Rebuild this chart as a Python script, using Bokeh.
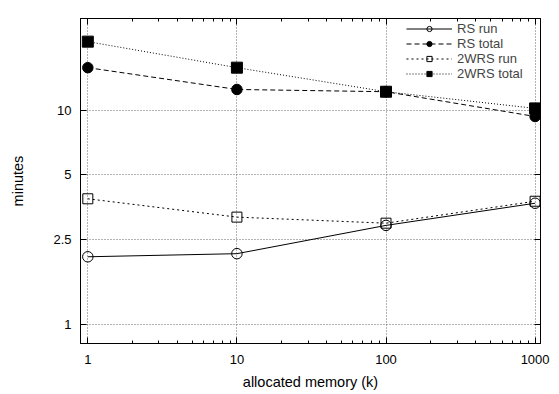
from bokeh.plotting import figure
from bokeh.models import Range1d, FixedTicker, LogAxis, Legend, LegendItem
from bokeh.embed import file_html
from bokeh.resources import INLINE

memory = [1, 10, 100, 1000]
rs_run = [2.07, 2.14, 2.90, 3.68]
rs_total = [15.8, 12.5, 12.2, 9.35]
wrs_run = [3.86, 3.17, 2.97, 3.76]
wrs_total = [20.9, 15.8, 12.2, 10.2]

x_ticks = [1, 10, 100, 1000]
x_tick_labels = {1: "1", 10: "10", 100: "100", 1000: "1000"}
x_minor = [m * d for d in (1, 10, 100) for m in range(2, 10)]
y_ticks = [1, 2.5, 5, 10]
y_tick_labels = {1: "1", 2.5: "2.5", 5: "5", 10: "10"}

FONT = "Liberation Sans"
FS = "13px"
FS_AX = "14.5px"

p = figure(width=559, height=394, x_axis_type="log", y_axis_type="log",
           x_range=Range1d(0.893, 1087), y_range=Range1d(0.815, 26.8),
           output_backend="svg", toolbar_location=None,
           min_border_left=80, min_border_right=19, min_border_top=18, min_border_bottom=51)

p.outline_line_color = "black"
p.outline_line_width = 1
p.background_fill_color = "white"

xt = FixedTicker(ticks=x_ticks, minor_ticks=x_minor)
yt = FixedTicker(ticks=y_ticks, minor_ticks=[])

def style_axis(ax, labels=True):
    ax.major_tick_in = 6
    ax.major_tick_out = 0
    ax.minor_tick_in = 3
    ax.minor_tick_out = 0
    ax.axis_line_color = "black"
    ax.major_tick_line_color = "black"
    ax.minor_tick_line_color = "black"
    ax.major_label_text_font = FONT
    ax.major_label_text_font_size = FS if labels else "1px"
    ax.major_label_text_color = "black"
    if not labels:
        ax.major_label_text_alpha = 0
    ax.axis_label_text_font = FONT
    ax.axis_label_text_font_size = FS_AX
    ax.axis_label_text_font_style = "normal"
    ax.axis_label_text_color = "black"

xa = p.xaxis[0]
xa.ticker = xt
xa.major_label_overrides = x_tick_labels
xa.axis_label = "allocated memory (k)"
style_axis(xa)
xa.major_label_standoff = 11
xa.axis_label_standoff = 7

ya = p.yaxis[0]
ya.ticker = yt
ya.major_label_overrides = y_tick_labels
ya.axis_label = "minutes"
style_axis(ya)
ya.minor_tick_line_color = None
ya.major_label_standoff = 9
ya.axis_label_standoff = 24

top = LogAxis(ticker=xt)
style_axis(top, labels=False)
top.major_label_standoff = 0
p.add_layout(top, "above")
right = LogAxis(ticker=yt)
style_axis(right, labels=False)
right.minor_tick_line_color = None
right.major_label_standoff = 0
p.add_layout(right, "right")

p.xgrid.ticker = xt
p.ygrid.ticker = yt
for g in (p.xgrid, p.ygrid):
    g.grid_line_color = "#666666"
    g.grid_line_dash = "1 2"
    g.grid_line_width = 1

l1 = p.line(memory, rs_run, line_color="black", line_width=1)
s1 = p.scatter(memory, rs_run, marker="circle", size=10.5, fill_color="white", fill_alpha=0,
               line_color="black", line_width=1)
l2 = p.line(memory, rs_total, line_color="black", line_width=1, line_dash="5 3")
s2 = p.scatter(memory, rs_total, marker="circle", size=10.5, fill_color="black", line_color="black")
l3 = p.line(memory, wrs_run, line_color="black", line_width=1, line_dash="2 3")
s3 = p.scatter(memory, wrs_run, marker="square", size=10, fill_color="white", fill_alpha=0,
               line_color="black", line_width=1)
l4 = p.line(memory, wrs_total, line_color="black", line_width=1, line_dash="1 2")
s4 = p.scatter(memory, wrs_total, marker="square", size=11, fill_color="black", line_color="black")

legend = Legend(items=[
    LegendItem(label="RS run", renderers=[l1, s1]),
    LegendItem(label="RS total", renderers=[l2, s2]),
    LegendItem(label="2WRS run", renderers=[l3, s3]),
    LegendItem(label="2WRS total", renderers=[l4, s4]),
], location=(326, 262))
legend.label_text_font = FONT
legend.label_text_font_size = FS
legend.glyph_width = 46
legend.glyph_height = 13
legend.label_height = 13
legend.spacing = 0
legend.padding = 0
legend.margin = 0
legend.border_line_color = None
legend.background_fill_alpha = 0
p.add_layout(legend)

open("out.html", "w").write(file_html(p, INLINE))
